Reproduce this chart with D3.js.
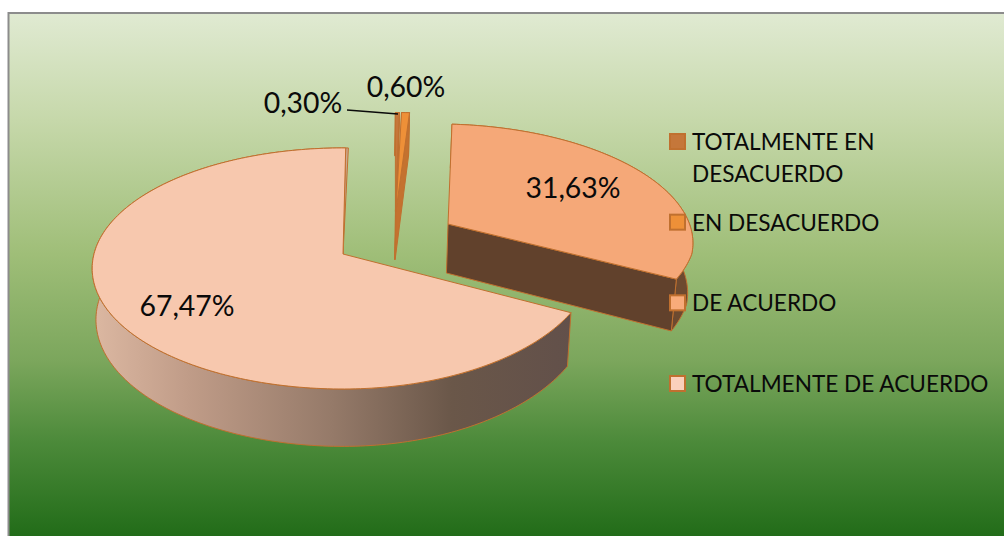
<!DOCTYPE html>
<html>
<head>
<meta charset="utf-8">
<script src="https://cdn.jsdelivr.net/npm/d3@7"></script>
<style>
    html, body { margin: 0; padding: 0; background: #fff; overflow: hidden; }
    svg { display: block; }
    text { font-family: Lato, "Open Sans", sans-serif; fill: #0a0a0a; }
</style>
</head>
<body>
<div id="container"></div>
<script>
const categories = ["TOTALMENTE EN DESACUERDO", "EN DESACUERDO", "DE ACUERDO", "TOTALMENTE DE ACUERDO"]
const values = [0.30, 0.60, 31.63, 67.47]
const legendLines = [["TOTALMENTE EN", "DESACUERDO"], ["EN DESACUERDO"], ["DE ACUERDO"], ["TOTALMENTE DE ACUERDO"]]
const faceColors = ["#c5773a", "#ee9038", "#f5a878", "#f7c8ae"]
const swatchColors = ["#c5773a", "#ee9038", "#f8ab7a", "#fbd0bc"]
const wallColors = ["#b06a30", "#c4722f", "#61412c", "url(#wallGrad)"]
const rimColors = ["#b06a30", "#c4722f", "#6d4a30", "url(#wallGrad)"]

const width = 1004
const height = 536

// perspective pie: circle in plane (u, v) -> screen
const cx = 343, cy = 254, R = 249, A = 118.8, k = 0.12
const depth = 50.5, shrink = 0.985
const shear = 13

// how far each slice is pulled out of the pie, in plane units
const explode = [[0.233, -0.39], [0.243, -0.39], [0.435, -0.26], [0, 0]]
const apexes = [[0.220, -0.375], [0.222, -0.375], [0.435, -0.26], [0, 0]]

const rotation = 0.7 * Math.PI / 180

function topPt(u, v) {
    const s = 1 / (1 - k * v)
    return [cx + R * u * s - shear * Math.max(v, 0) * Math.max(u, 0), cy + A * v * s]
}

function bottomPt(u, v) {
    const s = 1 / (1 - k * v)
    return [cx + R * u * s * shrink - shear * Math.max(v, 0) * Math.max(u, 0), cy + A * v * s + depth * s]
}

const svg = d3.select("#container").append("svg")
    .attr("width", width)
    .attr("height", height)

const defs = svg.append("defs")

const bg = defs.append("linearGradient")
    .attr("id", "bgGrad")
    .attr("x1", 0).attr("y1", 0).attr("x2", 0).attr("y2", 1)
bg.selectAll("stop")
    .data([[0, "#e0ead2"], [0.2, "#c6d8aa"], [0.45, "#9fbe78"], [0.65, "#7ba65c"], [0.8, "#4c8a3a"], [1, "#1c6814"]])
    .enter().append("stop")
    .attr("offset", d => d[0])
    .attr("stop-color", d => d[1])

const wallGrad = defs.append("linearGradient")
    .attr("id", "wallGrad")
    .attr("gradientUnits", "userSpaceOnUse")
    .attr("x1", 92).attr("y1", 0).attr("x2", 572).attr("y2", 0)
wallGrad.selectAll("stop")
    .data([[0, "#dcb8a2"], [0.2, "#c09c88"], [0.5, "#957a69"], [0.75, "#6a5749"], [1, "#62504a"]])
    .enter().append("stop")
    .attr("offset", d => d[0])
    .attr("stop-color", d => d[1])

svg.append("rect")
    .attr("x", 8.5).attr("y", 13)
    .attr("width", width).attr("height", height)
    .attr("fill", "url(#bgGrad)")
    .attr("stroke", "#8c8c8c")
    .attr("stroke-width", 2)

const pie = d3.pie().sort(null)
    .startAngle(rotation)
    .endAngle(rotation + 2 * Math.PI)
const arcs = pie(values)

const line = d3.line()

function angles(a0, a1) {
    const n = Math.max(2, Math.ceil((a1 - a0) / 0.02))
    return d3.range(n + 1).map(i => a0 + (a1 - a0) * i / n)
}

const slices = svg.append("g")
    .attr("stroke", "#c0702f")
    .attr("stroke-width", 1)
    .attr("stroke-linejoin", "round")

arcs.forEach((d, i) => {
    const [ox, oy] = explode[i]
    const [ax, ay] = apexes[i]
    const rim = angles(d.startAngle, d.endAngle)
    const px = a => ox + Math.sin(a)
    const py = a => oy - Math.cos(a)

    // outer wall
    const wall = rim.map(a => topPt(px(a), py(a)))
        .concat(rim.slice().reverse().map(a => bottomPt(px(a), py(a))))
    slices.append("path")
        .attr("d", line(wall) + "Z")
        .attr("fill", rimColors[i])

    // cut wall on the end edge
    if (i < 3) {
        const a = d.endAngle
        const cut = [topPt(ax, ay), topPt(px(a), py(a)), bottomPt(px(a), py(a)), bottomPt(ax, ay)]
        slices.append("path")
            .attr("d", line(cut) + "Z")
            .attr("fill", wallColors[i])
    } else {
        // thin inner wall next to the top of the big slice
        const a = d.endAngle
        const sliver = [topPt(0, 0), topPt(Math.sin(a), -Math.cos(a)), topPt(Math.sin(a + 0.012), -Math.cos(a + 0.012))]
        slices.append("path")
            .attr("d", line(sliver) + "Z")
            .attr("fill", "#cba78f")
    }

    // top face
    const face = [topPt(ax, ay)].concat(rim.map(a => topPt(px(a), py(a))))
    slices.append("path")
        .attr("d", line(face) + "Z")
        .attr("fill", faceColors[i])
})

// leader line for the smallest slice
svg.append("path")
    .attr("d", line([[347, 110], [398, 114]]))
    .attr("fill", "none")
    .attr("stroke", "#0a0a0a")
    .attr("stroke-width", 1.5)

const pct = d3.formatLocale({ decimal: ",", thousands: ".", grouping: [3], currency: ["", ""] }).format(".2f")

const labelPos = [[303, 113], [406, 97], [573, 198], [187, 316]]

svg.append("g").selectAll("text")
    .data(values)
    .enter().append("text")
    .attr("x", (d, i) => labelPos[i][0])
    .attr("y", (d, i) => labelPos[i][1])
    .attr("text-anchor", "middle")
    .attr("font-size", 28.4)
    .text(d => pct(d) + "%")

const legendY = d3.scaleLinear().domain([0, 3]).range([141, 383])

const legend = svg.append("g").selectAll("g")
    .data(categories)
    .enter().append("g")
    .attr("transform", (d, i) => `translate(669, ${legendY(i)})`)

legend.append("rect")
    .attr("x", 1).attr("y", -7)
    .attr("width", 15).attr("height", 15)
    .attr("fill", (d, i) => swatchColors[i])
    .attr("stroke", "#c0702f")
    .attr("stroke-width", 2)

legend.append("text")
    .selectAll("tspan")
    .data((d, i) => legendLines[i])
    .enter().append("tspan")
    .attr("x", 23)
    .attr("y", (d, i) => 9 + i * 32)
    .attr("font-size", 22.6)
    .text(d => d)
</script>
</body>
</html>
